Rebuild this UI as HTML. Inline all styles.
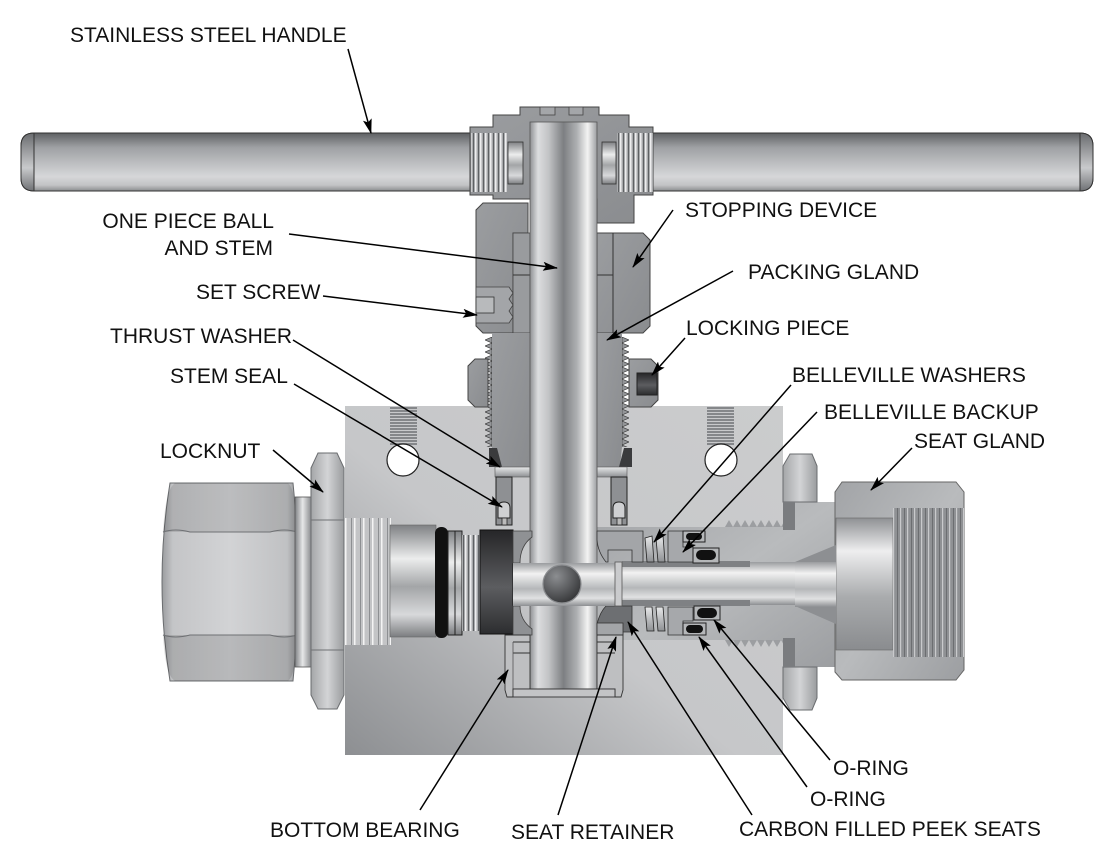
<!DOCTYPE html>
<html><head><meta charset="utf-8">
<style>
html,body{margin:0;padding:0;background:#fff;}
svg{display:block;}
text{font-family:"Liberation Sans",Arial,sans-serif;font-size:21px;fill:#111;}
</style></head><body>
<svg width="1118" height="855" viewBox="0 0 1118 855" xmlns="http://www.w3.org/2000/svg">
<defs>
 <linearGradient id="gHandle" x1="0" y1="0" x2="0" y2="1">
  <stop offset="0" stop-color="#5e6063"/>
  <stop offset="0.25" stop-color="#9fa1a4"/>
  <stop offset="0.75" stop-color="#d6d7d9"/>
  <stop offset="0.9" stop-color="#c2c3c5"/>
  <stop offset="1" stop-color="#8a8c8e"/>
 </linearGradient>
 <linearGradient id="gCap" x1="0" y1="0" x2="0" y2="1">
  <stop offset="0" stop-color="#6a6c6f"/>
  <stop offset="0.6" stop-color="#c9cacc"/>
  <stop offset="1" stop-color="#6f7174"/>
 </linearGradient>
 <linearGradient id="gStem" x1="0" y1="0" x2="1" y2="0">
  <stop offset="0" stop-color="#8f9194"/>
  <stop offset="0.12" stop-color="#dcdddf"/>
  <stop offset="0.28" stop-color="#c2c3c5"/>
  <stop offset="0.5" stop-color="#7d7f82"/>
  <stop offset="0.7" stop-color="#aeb0b2"/>
  <stop offset="0.86" stop-color="#f3f3f3"/>
  <stop offset="1" stop-color="#9c9ea1"/>
 </linearGradient>
 <linearGradient id="gBody" x1="0" y1="1" x2="1" y2="0">
  <stop offset="0" stop-color="#8d8f92"/>
  <stop offset="0.45" stop-color="#c6c7c9"/>
  <stop offset="1" stop-color="#cbcccd"/>
 </linearGradient>
 <linearGradient id="gCylV" x1="0" y1="0" x2="0" y2="1">
  <stop offset="0" stop-color="#7f8184"/>
  <stop offset="0.3" stop-color="#eceded"/>
  <stop offset="0.55" stop-color="#a3a5a7"/>
  <stop offset="0.8" stop-color="#d8d9db"/>
  <stop offset="1" stop-color="#7b7d80"/>
 </linearGradient>
 <linearGradient id="gCylV2" x1="0" y1="0" x2="0" y2="1">
  <stop offset="0" stop-color="#9a9c9f"/>
  <stop offset="0.25" stop-color="#f2f2f2"/>
  <stop offset="0.6" stop-color="#b5b7b9"/>
  <stop offset="0.82" stop-color="#e0e1e2"/>
  <stop offset="1" stop-color="#8d8f92"/>
 </linearGradient>
 <linearGradient id="gCylH" x1="0" y1="0" x2="1" y2="0">
  <stop offset="0" stop-color="#7e8083"/>
  <stop offset="0.45" stop-color="#e6e7e8"/>
  <stop offset="1" stop-color="#808285"/>
 </linearGradient>
 <linearGradient id="gSect" x1="0" y1="0" x2="1" y2="1">
  <stop offset="0" stop-color="#9b9da0"/>
  <stop offset="1" stop-color="#8a8c8f"/>
 </linearGradient>
 <linearGradient id="gSect2" x1="0" y1="0" x2="1" y2="1">
  <stop offset="0" stop-color="#a2a4a7"/>
  <stop offset="0.5" stop-color="#b9bbbd"/>
  <stop offset="1" stop-color="#9c9ea1"/>
 </linearGradient>
 <linearGradient id="gDark" x1="0" y1="0" x2="0" y2="1">
  <stop offset="0" stop-color="#262628"/>
  <stop offset="0.55" stop-color="#5c5d60"/>
  <stop offset="1" stop-color="#2c2d2f"/>
 </linearGradient>
 <linearGradient id="gNutH" x1="0" y1="0" x2="1" y2="0">
  <stop offset="0" stop-color="#9a9c9f"/>
  <stop offset="0.08" stop-color="#c4c5c7"/>
  <stop offset="0.5" stop-color="#d2d3d5"/>
  <stop offset="0.92" stop-color="#c0c1c3"/>
  <stop offset="1" stop-color="#909295"/>
 </linearGradient>
 <linearGradient id="gLock" x1="0" y1="0" x2="1" y2="0">
  <stop offset="0" stop-color="#a4a6a8"/>
  <stop offset="0.5" stop-color="#d3d4d6"/>
  <stop offset="1" stop-color="#9a9c9e"/>
 </linearGradient>
 <linearGradient id="gBore" x1="0" y1="0" x2="0" y2="1">
  <stop offset="0" stop-color="#8f9194"/>
  <stop offset="0.25" stop-color="#eeeeef"/>
  <stop offset="0.6" stop-color="#a9abad"/>
  <stop offset="1" stop-color="#8a8c8f"/>
 </linearGradient>
 <linearGradient id="gWash" x1="0" y1="0" x2="0" y2="1">
  <stop offset="0" stop-color="#e8e9ea"/>
  <stop offset="1" stop-color="#8e9093"/>
 </linearGradient>
 <radialGradient id="gPort" cx="0.35" cy="0.3" r="0.8">
  <stop offset="0" stop-color="#8c8e91"/>
  <stop offset="1" stop-color="#2f3032"/>
 </radialGradient>
 <pattern id="pThrV" x="0" y="0" width="5" height="10" patternUnits="userSpaceOnUse">
  <rect width="5" height="10" fill="#a9abad"/><rect x="0" width="1.5" height="10" fill="#eeeeef"/><rect x="3" width="1" height="10" fill="#5f6164"/>
 </pattern>
 <pattern id="pThrL" x="345" y="0" width="9" height="10" patternUnits="userSpaceOnUse">
  <rect width="9" height="10" fill="#c3c4c6"/><rect x="0" width="1.5" height="10" fill="#f4f4f4"/><rect x="6" width="1" height="10" fill="#8d8f92"/>
 </pattern>
 <pattern id="pThrG" x="893" y="0" width="7" height="10" patternUnits="userSpaceOnUse">
  <rect width="7" height="10" fill="#8f9194"/><rect x="0" width="1.2" height="10" fill="#c9cacc"/><rect x="4" width="1" height="10" fill="#6c6e71"/>
 </pattern>
 <pattern id="pThrH" x="0" y="406" width="10" height="3" patternUnits="userSpaceOnUse">
  <rect width="10" height="3" fill="#85878a"/><rect width="10" height="1" fill="#c8c9cb"/>
 </pattern>
 <pattern id="pTeethL" x="485" y="337" width="7" height="6" patternUnits="userSpaceOnUse">
  <path d="M7,0 L0,3 L7,6 Z" fill="#939598" stroke="#333" stroke-width="0.6"/>
 </pattern>
 <pattern id="pTeethR" x="622" y="337" width="7" height="6" patternUnits="userSpaceOnUse">
  <path d="M0,0 L7,3 L0,6 Z" fill="#939598" stroke="#333" stroke-width="0.6"/>
 </pattern>
 <pattern id="pTeethU" x="725" y="520" width="8" height="7" patternUnits="userSpaceOnUse">
  <path d="M0,7 L4,0 L8,7 Z" fill="#9c9ea1"/>
 </pattern>
 <pattern id="pTeethD" x="725" y="640" width="8" height="7" patternUnits="userSpaceOnUse">
  <path d="M0,0 L4,7 L8,0 Z" fill="#9c9ea1"/>
 </pattern>
 <marker id="ar" markerWidth="15" markerHeight="9" refX="14" refY="4.5" orient="auto" markerUnits="userSpaceOnUse">
  <path d="M0,0 L15,4.5 L0,9 L3,4.5 Z" fill="#000"/>
 </marker>
</defs>

<rect width="1118" height="855" fill="#fff"/>

<!-- Handles -->
<path d="M34,133 L472,133 L472,191 L34,191 Q21,191 21,178 L21,146 Q21,133 34,133 Z" fill="url(#gHandle)" stroke="#333" stroke-width="1"/>
<path d="M34,133 Q21,133 21,146 L21,178 Q21,191 34,191 Z" fill="url(#gCap)" stroke="#333" stroke-width="1"/>
<path d="M652,133 L1080,133 Q1093,133 1093,146 L1093,178 Q1093,191 1080,191 L652,191 Z" fill="url(#gHandle)" stroke="#333" stroke-width="1"/>
<path d="M1080,133 Q1093,133 1093,146 L1093,178 Q1093,191 1080,191 Z" fill="url(#gCap)" stroke="#333" stroke-width="1"/>

<!-- Body block -->
<rect x="345" y="406" width="438" height="349" fill="url(#gBody)"/>
<rect x="390" y="406" width="27" height="40" fill="url(#pThrH)"/>
<rect x="707" y="406" width="27" height="40" fill="url(#pThrH)"/>
<circle cx="403" cy="460" r="16" fill="#fff" stroke="#222" stroke-width="1.2"/>
<circle cx="721" cy="460" r="16" fill="#fff" stroke="#222" stroke-width="1.2"/>

<!-- Left fitting -->
<path d="M170,483 L293,483 Q298,532 298,582 Q298,632 293,681 L170,681 Q162,632 162,582 Q162,532 170,483 Z" fill="url(#gNutH)" stroke="#6a6c6f" stroke-width="1"/>
<path d="M175,483 L288,483 Q296,490 297,532 L163,532 Q165,490 175,483 Z" fill="#000" fill-opacity="0.1"/>
<path d="M163,635 L297,635 Q296,675 288,681 L175,681 Q165,675 163,635 Z" fill="#000" fill-opacity="0.12"/>
<path d="M163,532 Q175,528 190,532 L270,532 Q285,528 297,532" stroke="#6f7174" stroke-width="1" fill="none"/>
<path d="M163,635 Q175,639 190,635 L270,635 Q285,639 297,635" stroke="#6f7174" stroke-width="1" fill="none"/>
<rect x="295" y="497" width="17" height="170" fill="url(#gCylH)" stroke="#555" stroke-width="0.8"/>
<path d="M318,453 L337,453 L344,468 L344,695 L337,709 L318,709 L311,695 L311,468 Z" fill="url(#gLock)" stroke="#6a6c6f" stroke-width="1"/>
<line x1="311" y1="520" x2="344" y2="520" stroke="#6f7174"/>
<line x1="311" y1="650" x2="344" y2="650" stroke="#6f7174"/>
<rect x="345" y="518" width="46" height="127" fill="url(#pThrL)"/>
<rect x="390" y="525" width="46" height="112" fill="url(#gCylV)" stroke="#666" stroke-width="0.6"/>
<rect x="435" y="527" width="13" height="111" rx="6" fill="#111"/>
<rect x="448" y="531" width="14" height="104" fill="url(#gCylV)" stroke="#222" stroke-width="1"/>
<line x1="455" y1="531" x2="455" y2="635" stroke="#222"/>
<rect x="462" y="535" width="18" height="96" fill="url(#pThrV)"/>
<rect x="480" y="530" width="33" height="104" fill="url(#gDark)" stroke="#111"/>

<!-- Right fitting: gland section -->
<path d="M597,527 L783,527 L783,502 L837,502 L837,667 L783,667 L783,640 L597,640 Z" fill="url(#gSect2)"/>
<rect x="725" y="520" width="58" height="7" fill="url(#pTeethU)"/>
<rect x="725" y="640" width="58" height="7" fill="url(#pTeethD)"/>
<path d="M790,454 L812,454 L817,466 L817,502 L783,502 L783,466 Z" fill="url(#gLock)" stroke="#6a6c6f"/>
<path d="M783,667 L817,667 L817,698 L812,710 L790,710 L783,698 Z" fill="url(#gLock)" stroke="#6a6c6f"/>
<rect x="783" y="502" width="12" height="28" fill="#7a7c7f"/>
<rect x="783" y="638" width="12" height="29" fill="#7a7c7f"/>
<path d="M842,482 L956,482 L964,492 L964,670 L956,680 L842,680 L835,672 L835,492 Z" fill="url(#gSect2)" stroke="#666" stroke-width="1"/>
<rect x="836" y="518" width="57" height="132" fill="url(#gBore)" stroke="#666" stroke-width="0.6"/>
<rect x="893" y="508" width="71" height="149" fill="url(#pThrG)"/>
<rect x="622" y="562" width="175" height="43" fill="url(#gCylV2)"/>
<rect x="622" y="561" width="128" height="6" fill="#7f8184"/>
<rect x="622" y="600" width="128" height="6" fill="#7f8184"/>
<path d="M795,562 L836,545 L836,624 L795,606 Z" fill="#8d8f92"/>
<rect x="795" y="562" width="41" height="45" fill="url(#gCylV2)"/>

<!-- Hub -->
<path d="M470,127 L493,127 L493,115 L520,115 L520,107 L599,107 L599,115 L629,115 L629,127 L653,127 L653,195 L634,195 L634,223 L597,223 L597,199 L528,199 L493,199 L493,195 L470,195 Z" fill="url(#gSect)" stroke="#444" stroke-width="1"/>
<rect x="540" y="107" width="15" height="8" fill="#a4a6a9" stroke="#444" stroke-width="0.8"/>
<rect x="569" y="107" width="14" height="8" fill="#a4a6a9" stroke="#444" stroke-width="0.8"/>
<rect x="471" y="133" width="36" height="59" fill="url(#pThrV)"/>
<rect x="617" y="133" width="36" height="59" fill="url(#pThrV)"/>
<rect x="508" y="142" width="15" height="42" fill="url(#gCylV)" stroke="#333" stroke-width="0.8"/>
<rect x="602" y="142" width="14" height="42" fill="url(#gCylV)" stroke="#333" stroke-width="0.8"/>

<!-- Bonnet upper blocks -->
<path d="M483,203 L528,203 L528,233 L513,233 L513,333 L483,333 L476,326 L476,210 Z" fill="url(#gSect)" stroke="#444"/>
<rect x="513" y="233" width="17" height="100" fill="#999b9e" stroke="#444" stroke-width="0.8"/>
<line x1="513" y1="275" x2="530" y2="275" stroke="#333"/>
<path d="M476,287 L509,287 L513,293 L509,299 L513,305 L509,311 L513,317 L509,323 L476,323 Z" fill="#a3a5a8" stroke="#444" stroke-width="0.8"/>
<rect x="476" y="297" width="18" height="16" fill="#b8babc" stroke="#333" stroke-width="0.8"/>
<path d="M597,233 L643,233 L650,240 L650,326 L643,333 L597,333 Z" fill="url(#gSect)" stroke="#444"/>
<line x1="613" y1="233" x2="613" y2="333" stroke="#333"/>
<line x1="597" y1="275" x2="613" y2="275" stroke="#333"/>

<!-- Packing gland threaded part -->
<rect x="492" y="333" width="38" height="134" fill="url(#gSect)"/>
<rect x="485" y="337" width="7" height="110" fill="url(#pTeethL)"/>
<path d="M597,333 L622,333 L622,447 L620,467 L597,467 Z" fill="url(#gSect)"/>
<rect x="622" y="337" width="7" height="110" fill="url(#pTeethR)"/>
<path d="M489,448 L497,448 L502,467 L489,467 Z" fill="#3a3b3d"/>
<path d="M632,448 L624,448 L619,467 L632,467 Z" fill="#3a3b3d"/>
<path d="M475,359 L488,359 L488,407 L475,407 L468,400 L468,366 Z" fill="url(#gSect)" stroke="#444"/>
<path d="M629,359 L651,359 L658,366 L658,400 L651,407 L629,407 Z" fill="url(#gSect)" stroke="#444"/>
<rect x="637" y="373" width="20" height="22" fill="url(#gDark)" stroke="#222"/>
<rect x="495" y="467" width="35" height="10" fill="url(#gWash)" stroke="#555" stroke-width="0.6"/>
<rect x="597" y="467" width="30" height="10" fill="url(#gWash)" stroke="#555" stroke-width="0.6"/>

<!-- Stem seals -->
<rect x="496" y="477" width="16" height="48" fill="#8e9093" stroke="#222"/>
<path d="M498,518 L498,508 Q498,502 504,502 Q510,502 510,508 L510,518 Z" fill="#cfd0d2" stroke="#222"/>
<rect x="502" y="518" width="5" height="7" fill="#bbb" stroke="#222" stroke-width="0.8"/>
<rect x="611" y="477" width="16" height="48" fill="#8e9093" stroke="#222"/>
<path d="M613,518 L613,508 Q613,502 619,502 Q625,502 625,508 L625,518 Z" fill="#cfd0d2" stroke="#222"/>
<rect x="617" y="518" width="5" height="7" fill="#bbb" stroke="#222" stroke-width="0.8"/>

<!-- Stem -->
<rect x="530" y="122" width="67" height="567" fill="url(#gStem)" stroke="#555" stroke-width="0.8"/>

<!-- Ball cavity sections -->
<path d="M513,531 L532,531 L532,537 Q520,546 520,563 L513,563 Z" fill="#8f9194" stroke="#444" stroke-width="0.8"/>
<path d="M513,635 L532,635 L532,629 Q520,620 520,606 L513,606 Z" fill="#8f9194" stroke="#444" stroke-width="0.8"/>
<path d="M597,531 L643,531 L643,562 L632,562 L632,550 L608,550 L608,562 L606,562 Q598,552 597,540 Z" fill="#a3a5a8" stroke="#333" stroke-width="0.8"/>
<path d="M606,606 L632,606 L632,632 L623,632 L623,635 L597,635 L597,624 Q600,612 606,606 Z" fill="#6d6f72" stroke="#333" stroke-width="0.8"/>
<rect x="597" y="623" width="26" height="12" fill="#a3a5a8" stroke="#333" stroke-width="0.8"/>

<!-- Flow channel & ball port -->
<rect x="513" y="563" width="107" height="43" fill="url(#gCylV2)"/>
<circle cx="562" cy="584" r="19" fill="url(#gPort)" stroke="#8a8c8f" stroke-width="1.2"/>
<rect x="615" y="562" width="7" height="44" fill="#cacbcd" stroke="#555" stroke-width="0.8"/>

<!-- Belleville washers / backup / o-rings -->
<path d="M645,538 L652,536 L654,562 L647,562 Z" fill="url(#gWash)" stroke="#222" stroke-width="0.8"/>
<path d="M656,538 L663,536 L665,562 L658,562 Z" fill="url(#gWash)" stroke="#222" stroke-width="0.8"/>
<path d="M645,607 L652,607 L654,631 L647,631 Z" fill="url(#gWash)" stroke="#222" stroke-width="0.8"/>
<path d="M656,607 L663,607 L665,631 L658,631 Z" fill="url(#gWash)" stroke="#222" stroke-width="0.8"/>
<path d="M668,531 L683,531 L683,547 L693,547 L693,562 L668,562 Z" fill="#a6a8ab" stroke="#333" stroke-width="0.8"/>
<path d="M668,607 L693,607 L693,621 L683,621 L683,635 L668,635 Z" fill="#a6a8ab" stroke="#333" stroke-width="0.8"/>
<rect x="683" y="531" width="22" height="11" fill="#b5b7b9" stroke="#222"/>
<rect x="686" y="533" width="16" height="7" rx="3.5" fill="#111"/>
<rect x="693" y="548" width="26" height="15" fill="#b5b7b9" stroke="#222"/>
<rect x="696" y="550" width="20" height="10" rx="5" fill="#111"/>
<rect x="694" y="606" width="26" height="14" fill="#b5b7b9" stroke="#222"/>
<rect x="697" y="608" width="20" height="10" rx="5" fill="#111"/>
<rect x="683" y="623" width="23" height="12" fill="#b5b7b9" stroke="#222"/>
<rect x="686" y="625" width="17" height="8" rx="4" fill="#111"/>

<!-- Bottom bearing -->
<path d="M505,635 L530,635 L530,689 L513,689 L513,697 L507,697 L505,690 Z" fill="#bebfc1" stroke="#333" stroke-width="0.9"/>
<line x1="513" y1="642" x2="530" y2="642" stroke="#333"/>
<line x1="513" y1="653" x2="530" y2="653" stroke="#333"/>
<line x1="513" y1="642" x2="513" y2="689" stroke="#555" stroke-width="0.8"/>
<path d="M597,635 L623,635 L623,690 L621,697 L615,697 L615,689 L597,689 Z" fill="#bebfc1" stroke="#333" stroke-width="0.9"/>
<line x1="597" y1="642" x2="615" y2="642" stroke="#333"/>
<line x1="597" y1="653" x2="615" y2="653" stroke="#333"/>
<rect x="513" y="689" width="102" height="8" fill="#c3c4c6" stroke="#333" stroke-width="0.9"/>

<!-- Labels -->
<text x="70" y="42">STAINLESS STEEL HANDLE</text>
<text x="274" y="228" text-anchor="end">ONE PIECE BALL</text>
<text x="273" y="255" text-anchor="end">AND STEM</text>
<text x="196" y="299">SET SCREW</text>
<text x="110" y="343">THRUST WASHER</text>
<text x="170" y="383">STEM SEAL</text>
<text x="160" y="458">LOCKNUT</text>
<text x="685" y="217">STOPPING DEVICE</text>
<text x="748" y="279">PACKING GLAND</text>
<text x="686" y="335">LOCKING PIECE</text>
<text x="792" y="382">BELLEVILLE WASHERS</text>
<text x="824" y="419">BELLEVILLE BACKUP</text>
<text x="914" y="448">SEAT GLAND</text>
<text x="833" y="775">O-RING</text>
<text x="810" y="806">O-RING</text>
<text x="739" y="836">CARBON FILLED PEEK SEATS</text>
<text x="511" y="839">SEAT RETAINER</text>
<text x="270" y="837">BOTTOM BEARING</text>

<!-- Leaders -->
<g stroke="#000" stroke-width="1.5" fill="none" marker-end="url(#ar)">
 <line x1="348" y1="49" x2="371" y2="133"/>
 <line x1="289" y1="234" x2="557" y2="268"/>
 <line x1="323" y1="296" x2="477" y2="315"/>
 <line x1="293" y1="340" x2="500" y2="467"/>
 <line x1="294" y1="384" x2="502" y2="507"/>
 <line x1="673" y1="210" x2="633" y2="267"/>
 <line x1="733" y1="271" x2="607" y2="340"/>
 <line x1="685" y1="338" x2="652" y2="375"/>
 <line x1="273" y1="450" x2="323" y2="492"/>
 <line x1="791" y1="385" x2="654" y2="542"/>
 <line x1="817" y1="412" x2="683" y2="552"/>
 <line x1="912" y1="448" x2="871" y2="490"/>
 <line x1="830" y1="760" x2="714" y2="620"/>
 <line x1="807" y1="787" x2="699" y2="637"/>
 <line x1="752" y1="815" x2="628" y2="622"/>
 <line x1="558" y1="815" x2="616" y2="637"/>
 <line x1="420" y1="810" x2="508" y2="670"/>
</g>
</svg>
</body></html>
